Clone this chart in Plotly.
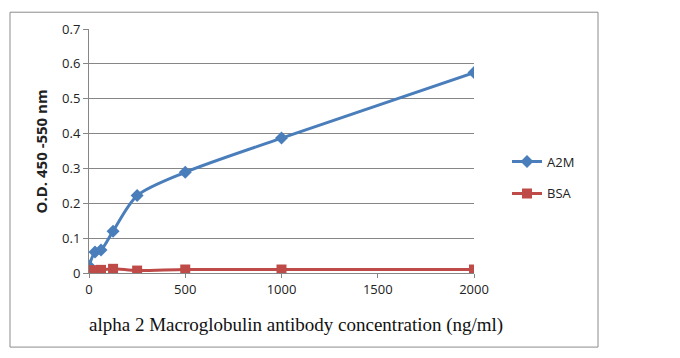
import plotly.graph_objects as go

conc_a2m = [0, 31.25, 62.5, 125, 250, 500, 1000, 2000]
od_a2m = [0.02, 0.06, 0.066, 0.12, 0.222, 0.289, 0.387, 0.575]
conc_bsa = [0, 31.25, 62.5, 125, 250, 500, 1000, 2000]
od_bsa = [0.008, 0.008, 0.009, 0.012, 0.007, 0.01, 0.01, 0.01]

x_ticks = [0, 500, 1000, 1500, 2000]
y_ticks = [0, 0.1, 0.2, 0.3, 0.4, 0.5, 0.6, 0.7]

BLUE = "#4A7EBB"
RED = "#BE4B48"

fig = go.Figure()
fig.add_trace(go.Scatter(x=conc_a2m, y=od_a2m, name="A2M", mode="lines+markers", legendgroup="a",
                         line=dict(color=BLUE, width=3, shape="spline", smoothing=0.8),
                         marker=dict(symbol="diamond", size=10, color=BLUE)))
fig.add_trace(go.Scatter(x=conc_bsa, y=od_bsa, name="BSA", mode="lines+markers", legendgroup="b",
                         line=dict(color=RED, width=3, shape="spline", smoothing=0.8),
                         marker=dict(symbol="square", size=10, color=RED)))

O = 8  # page body margin offset
L, R, T, B = 89 - O, 474 - O, 26 - O, 273 - O
W, H = 680, 358
pw, ph = R - L, B - T

def px(x): return (x - O - L) / pw
def py(y): return (B - (y - O)) / ph

fig.update_layout(
    width=W, height=H,
    margin=dict(l=L, r=W - R, t=T, b=H - B),
    paper_bgcolor="white", plot_bgcolor="white",
    font=dict(family="Open Sans, DejaVu Sans, sans-serif", size=13, color="#222"),
    showlegend=True,
    legend=dict(x=px(507), y=py(145), xanchor="left", yanchor="top",
                font=dict(size=13, color="#222"), tracegroupgap=12,
                itemwidth=30, bgcolor="rgba(0,0,0,0)"),
    xaxis=dict(range=[0, 2000], tickvals=x_ticks, showgrid=False, zeroline=False,
               showline=True, linecolor="#868686", linewidth=1,
               ticks="outside", ticklen=4, tickcolor="#868686", fixedrange=True),
    yaxis=dict(range=[0, 0.7], tickvals=y_ticks, ticktext=["0", "0.1", "0.2", "0.3", "0.4", "0.5", "0.6", "0.7"],
               showgrid=True, gridcolor="#868686", gridwidth=1, zeroline=False,
               showline=True, linecolor="#868686", linewidth=1,
               ticks="outside", ticklen=5, tickcolor="#868686", fixedrange=True),
    shapes=[dict(type="rect", xref="paper", yref="paper",
                 x0=px(10), x1=px(598), y0=py(348), y1=py(9),
                 line=dict(color="#8C8C8C", width=1), layer="below")],
    annotations=[
        dict(text="alpha 2 Macroglobulin antibody concentration (ng/ml)", xref="paper", yref="paper",
             x=px(296), y=py(326), xanchor="center", yanchor="middle", showarrow=False,
             font=dict(family="Liberation Serif, Times New Roman, serif", size=19, color="#111")),
        dict(text="<b>O.D. 450 -550 nm</b>", xref="paper", yref="paper",
             x=px(41), y=py(150), xanchor="center", yanchor="middle", showarrow=False, textangle=-90,
             font=dict(size=15, color="#222")),
    ],
)

fig.write_html("out.html")
